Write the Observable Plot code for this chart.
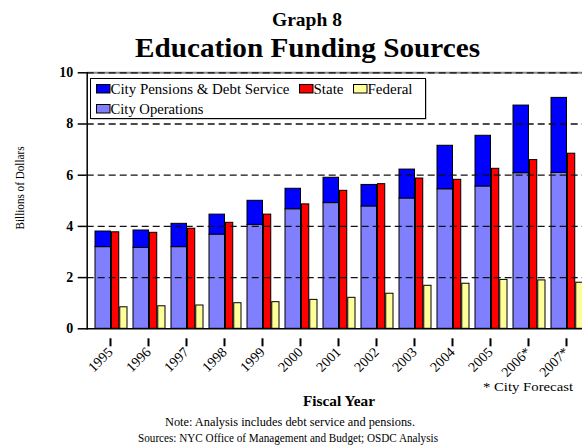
<!DOCTYPE html>
<html><head><meta charset="utf-8">
<script src="https://cdn.jsdelivr.net/npm/d3@7"></script>
<script src="https://cdn.jsdelivr.net/npm/@observablehq/plot@0.6"></script>
<style>
html,body{margin:0;padding:0;background:#fff;overflow:hidden;}
#chart{position:relative;width:582px;height:447px;overflow:hidden;}
</style></head><body><div id="chart"></div>
<script>
const years = ["1995","1996","1997","1998","1999","2000","2001","2002","2003","2004","2005","2006*","2007*"];
const cityOperations = [3.19,3.16,3.19,3.68,4.06,4.67,4.91,4.78,5.09,5.45,5.56,6.08,6.09];
const cityPensionsDebt = [0.61,0.68,0.91,0.78,0.94,0.80,0.99,0.84,1.13,1.70,1.98,2.64,2.93];
const stateFunding = [3.77,3.75,3.91,4.14,4.46,4.86,5.39,5.65,5.87,5.82,6.25,6.59,6.84];
const federalFunding = [0.84,0.88,0.91,1.00,1.04,1.13,1.21,1.37,1.68,1.76,1.91,1.89,1.80];
const yTicks = [0,2,4,6,8,10];
const seriesNames = ["City Pensions & Debt Service","State","Federal","City Operations"];
const seriesColors = ["#0000ff","#ff0000","#ffff99","#8080ff"];

const cityRows = [];
years.forEach((y,i)=>{ cityRows.push({year:y, series:"City Operations", value:cityOperations[i]}); });
years.forEach((y,i)=>{ cityRows.push({year:y, series:"City Pensions & Debt Service", value:cityPensionsDebt[i]}); });
const stateRows = years.map((y,i)=>({year:y, series:"State", value:stateFunding[i]}));
const fedRows = years.map((y,i)=>({year:y, series:"Federal", value:federalFunding[i]}));

const serif = '"Liberation Serif", "Times New Roman", serif';
const barStyle = {stroke:"#000", strokeWidth:1};

const plot = Plot.plot({
  width:582, height:447,
  marginLeft:86.7, marginRight:0, marginTop:72.3, marginBottom:118.7,
  style:{fontFamily:serif, background:"white", overflow:"hidden", color:"#000"},
  x:{type:"band", domain:years, range:[86.7,591.1], paddingInner:0.15, paddingOuter:0.075, label:null},
  y:{domain:[0,10], label:null},
  color:{domain:seriesNames, range:seriesColors},
  marks:[
    Plot.barY(cityRows, {x:"year", y:"value", fill:"series", ...barStyle, insetRight:16.5}),
    Plot.barY(stateRows, {x:"year", y:"value", fill:"series", ...barStyle, insetLeft:16.5, insetRight:8.25}),
    Plot.barY(fedRows, {x:"year", y:"value", fill:"series", ...barStyle, insetLeft:24.75}),
    Plot.ruleY([10], {stroke:"#888", strokeWidth:2}),
    Plot.ruleY(yTicks.filter(v=>v>0), {stroke:"#111", strokeDasharray:"7,4", strokeWidth:1.3}),
    Plot.axisY({ticks:yTicks, tickSize:9, tickPadding:5, fontSize:14, fontWeight:"bold", label:null, strokeWidth:1.5}),
    Plot.axisX({tickSize:8, tickRotate:-45, tickPadding:3, fontSize:14, label:null, strokeWidth:2, dx:-1, dy:10}),
    Plot.frame({anchor:"left", strokeWidth:1.5}),
    Plot.frame({anchor:"bottom", strokeWidth:1.5})
  ]
});
document.getElementById("chart").appendChild(plot);

const svg = d3.select(plot);
const g = svg.append("g").style("font-family", serif).attr("fill","#000");
function txt(x,y,s,opts={}){
  const t = g.append("text").attr("x",x).attr("y",y).text(s)
    .style("font-family", serif)
    .style("font-size", (opts.size||12)+"px")
    .style("font-weight", opts.weight||"normal")
    .style("text-anchor", opts.anchor||"middle");
  if (opts.len) t.attr("textLength", opts.len).attr("lengthAdjust","spacingAndGlyphs");
  if (opts.rotate) t.attr("transform", `rotate(${opts.rotate},${x},${y})`);
  return t;
}
txt(307,26,"Graph 8",{size:19,weight:"bold",len:70});
txt(307.5,56.5,"Education Funding Sources",{size:28,weight:"bold",len:345});
txt(24,188,"Billions of Dollars",{size:12,rotate:-90,len:83});
txt(339,406,"Fiscal Year",{size:14,weight:"bold",len:72});
txt(573,391,"* City Forecast",{size:13,anchor:"end",len:90});
txt(290,426,"Note: Analysis includes debt service and pensions.",{size:12,len:250});
txt(288,442,"Sources: NYC Office of Management and Budget; OSDC Analysis",{size:12,len:300});

// legend
const lg = svg.append("g");
lg.append("rect").attr("x",91.5).attr("y",79.5).attr("width",335).attr("height",40).attr("fill","#999");
lg.append("rect").attr("x",90.5).attr("y",78.5).attr("width",335).attr("height",40).attr("fill","#fff").attr("stroke","#000").attr("stroke-width",1);
const items = [
  {name:seriesNames[0], x:96, y:84, len:179},
  {name:seriesNames[1], x:299, y:84, len:30},
  {name:seriesNames[2], x:353, y:84, len:45},
  {name:seriesNames[3], x:96, y:104, len:93}
];
items.forEach(it=>{
  const c = seriesColors[seriesNames.indexOf(it.name)];
  lg.append("rect").attr("x",it.x+0.5).attr("y",it.y+0.5).attr("width",13.5).attr("height",8.5).attr("fill",c).attr("stroke","#000").attr("stroke-width",1);
  lg.append("text").attr("x",it.x+14.5).attr("y",it.y+10).text(it.name)
    .attr("textLength", it.len).attr("lengthAdjust","spacingAndGlyphs")
    .style("font-family", serif).style("font-size","15px").style("text-anchor","start").attr("fill","#000");
});
</script></body></html>
